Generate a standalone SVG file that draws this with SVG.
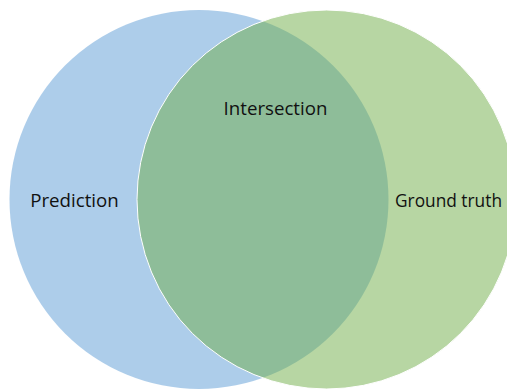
<svg xmlns="http://www.w3.org/2000/svg" width="507" height="390" viewBox="0 0 507 390">
  <style>
    .set { fill-opacity: 0.5; }
    .edge { stroke: #ffffff; stroke-width: 1; }
    .label { font-family: "Open Sans", "Liberation Sans", sans-serif; font-size: 18.7px; fill: #111111; }
  </style>
  <rect width="507" height="390" fill="#ffffff"/>
  <g id="prediction">
    <circle class="set" cx="199" cy="199.5" r="189.5" fill="#5B9BD5"/>
    <text class="label" x="74.5" y="206.5" text-anchor="middle">Prediction</text>
  </g>
  <g id="ground-truth">
    <circle class="set edge" cx="326.5" cy="199.5" r="189.5" fill="#70AD47"/>
    <text class="label" x="395" y="206.5" textLength="107" lengthAdjust="spacingAndGlyphs">Ground truth</text>
  </g>
  <g id="intersection">
    <text class="label" x="275.5" y="114.5" text-anchor="middle">Intersection</text>
  </g>
  <g id="connectors"/>
</svg>
